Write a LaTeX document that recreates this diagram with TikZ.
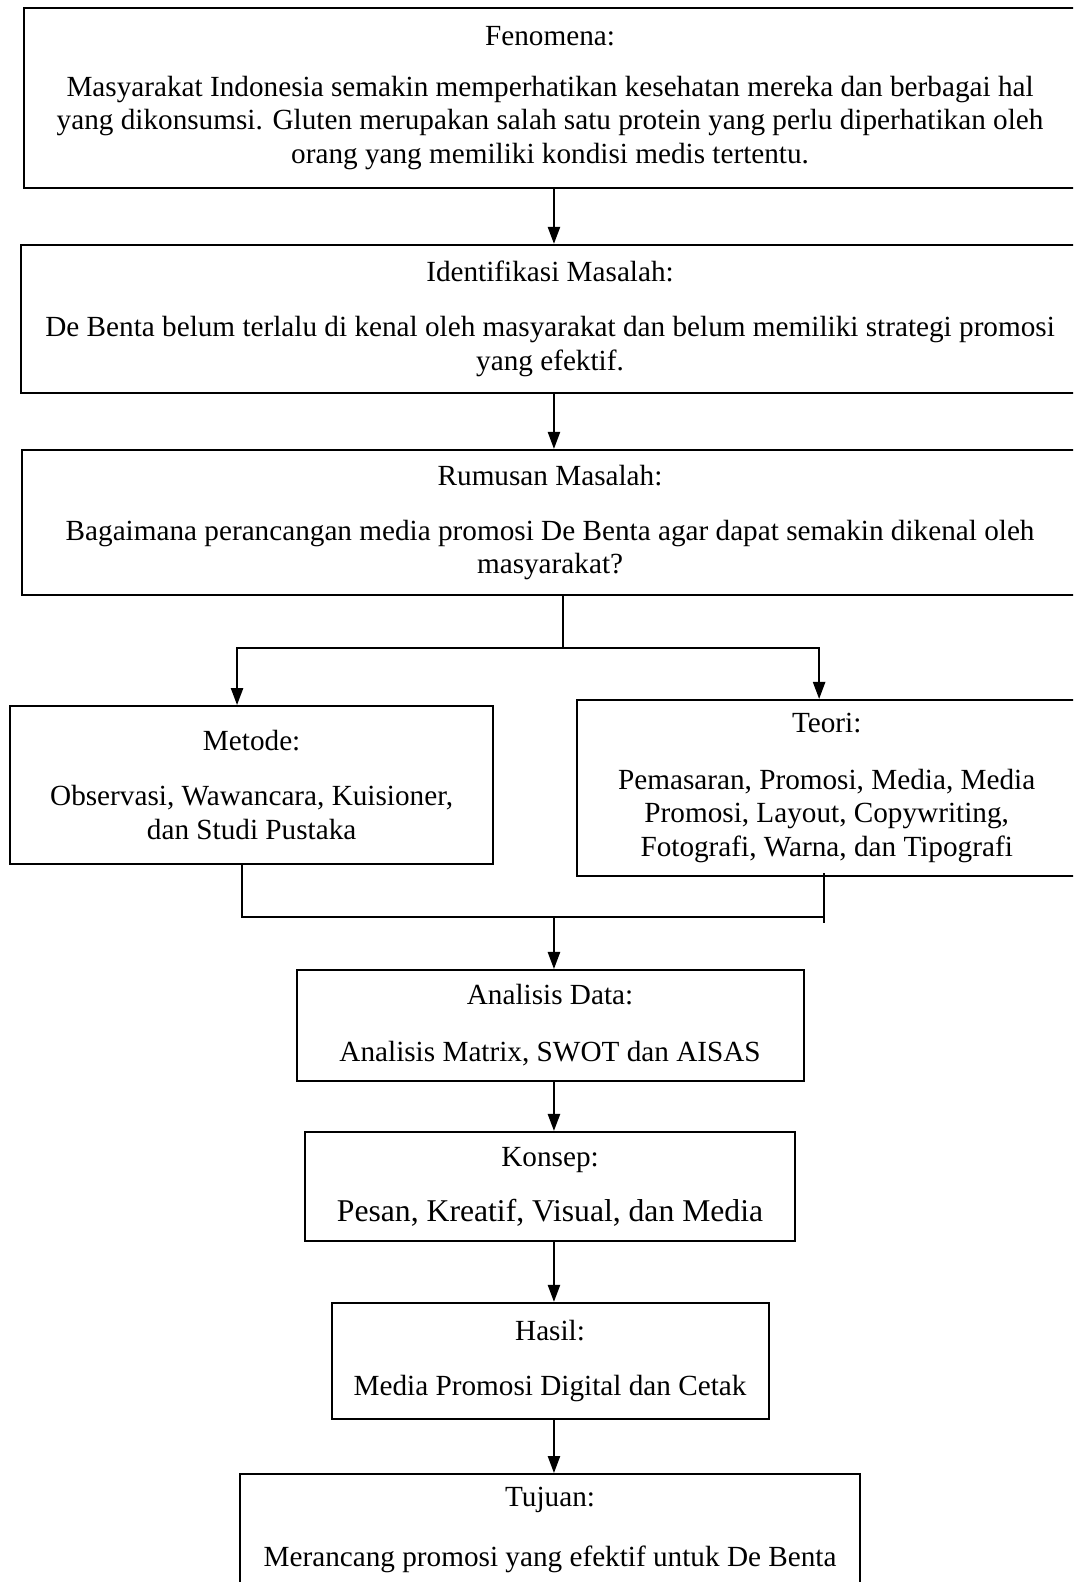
\documentclass[tikz,border=0pt]{standalone}
\usepackage{fontspec}
\setmainfont{Liberation Serif}
\usetikzlibrary{positioning,arrows.meta,calc}

\begin{document}
\begin{tikzpicture}[>={Triangle[length=7pt,width=5pt]}, line width=0.8pt,
  box/.style={rectangle, draw, align=center, inner sep=2pt,
    font=\fontsize{12}{13.8}\selectfont}]
\useasboundingbox (0,0) rectangle (440.7pt,-649.7pt);
\clip (0,0) rectangle (440.7pt,-649.7pt);

% main chain
\node[box, minimum width=432.1pt, minimum height=73.9pt] (fenomena) at (225.9pt,-40.2pt)
  {Fenomena:\\[7pt]
   Masyarakat Indonesia semakin memperhatikan kesehatan mereka dan berbagai hal\\
   yang dikonsumsi. Gluten merupakan salah satu protein yang perlu diperhatikan oleh\\
   orang yang memiliki kondisi medis tertentu.};
\node[box, minimum width=434.5pt, minimum height=60.8pt, below=22.6pt of fenomena] (identifikasi)
  {Identifikasi Masalah:\\[8.8pt]
   De Benta belum terlalu di kenal oleh masyarakat dan belum memiliki strategi promosi\\
   yang efektif.};
\node[box, minimum width=433.7pt, minimum height=59.6pt, below=22.6pt of identifikasi] (rumusan)
  {Rumusan Masalah:\\[8.8pt]
   Bagaimana perancangan media promosi De Benta agar dapat semakin dikenal oleh\\
   masyarakat?};

% two branches
\node[box, minimum width=198.4pt, minimum height=64.9pt,
  below right=44.8pt and -4.9pt of rumusan.south west] (metode)
  {Metode:\\[8.8pt]
   Observasi, Wawancara, Kuisioner,\\
   dan Studi Pustaka};
\node[box, minimum width=204.9pt, minimum height=72.3pt,
  below left=42.3pt and 0.8pt of rumusan.south east] (teori)
  {Teori:\\[9.6pt]
   Pemasaran, Promosi, Media, Media\\
   Promosi, Layout, Copywriting,\\
   Fotografi, Warna, dan Tipografi};

\node[box, minimum width=208.2pt, minimum height=45.6pt, below=153.2pt of rumusan] (analisis)
  {Analisis Data:\\[9.6pt]
   Analisis Matrix, SWOT dan AISAS};
\node[box, minimum width=201.2pt, minimum height=44.8pt, below=20.1pt of analisis] (konsep)
  {Konsep:\\[8.8pt]
   {\fontsize{13}{15}\selectfont Pesan, Kreatif, Visual, dan Media}};
\node[box, minimum width=179.5pt, minimum height=47.6pt, below=24.6pt of konsep] (hasil)
  {Hasil:\\[8.8pt]
   Media Promosi Digital dan Cetak};
\node[box, minimum width=254.6pt, minimum height=46pt, below=21.9pt of hasil] (tujuan)
  {Tujuan:\\[10.8pt]
   Merancang promosi yang efektif untuk De Benta};

% connectors
\draw[->] ([xshift=1.6pt]fenomena.south) -- ([xshift=1.6pt]identifikasi.north);
\draw[->] ([xshift=1.6pt]identifikasi.south) -- ([xshift=1.6pt]rumusan.north);

\coordinate (split) at ([xshift=5.3pt,yshift=-21.4pt]rumusan.south);
\draw (split |- rumusan.south) -- (split);
\draw[->] (split) -| ([xshift=-6pt]metode.north);
\draw[->] (split) -| ([xshift=-3.1pt]teori.north);

\coordinate (joinL) at ([xshift=-3.9pt,yshift=-21.4pt]metode.south);
\coordinate (tb) at ([xshift=-1pt]teori.south);
\coordinate (an) at ([xshift=1.6pt]analisis.north);
\draw ([xshift=-3.9pt]metode.south) -- ($(joinL)+(0,-0.4pt)$);
\draw (joinL) -- (tb |- joinL);
\draw ($(tb)+(0,1.6pt)$) -- ($(tb |- joinL)+(0,-2.5pt)$);
\draw[->] (an |- joinL) -- (an);

\draw[->] ([xshift=1.6pt]analisis.south) -- ([xshift=1.6pt]konsep.north);
\draw[->] ([xshift=1.6pt]konsep.south) -- ([xshift=1.6pt]hasil.north);
\draw[->] ([xshift=1.6pt]hasil.south) -- ([xshift=1.6pt]tujuan.north);
\end{tikzpicture}
\end{document}
